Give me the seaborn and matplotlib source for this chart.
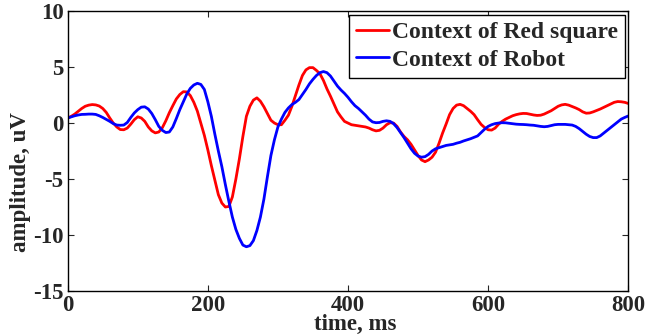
import numpy as np
import pandas as pd
import seaborn as sns
import matplotlib.pyplot as plt

# time axis, ms (one sample every 5 ms)
time_ms = list(range(0, 801, 5))

# ERP amplitude (uV), one row = 100 ms
red_square = [
    0.45, 0.6, 0.8, 1.05, 1.3, 1.5, 1.6, 1.65, 1.62, 1.52, 1.3, 0.95, 0.45, 0.0, -0.35, -0.58, -0.6, -0.45, -0.1, 0.3,
    0.56, 0.45, 0.15, -0.35, -0.7, -0.88, -0.8, -0.42, 0.2, 0.92, 1.55, 2.15, 2.55, 2.8, 2.78, 2.45, 1.85, 1.07, 0.0, -1.1,
    -2.4, -3.8, -5.1, -6.4, -7.15, -7.5, -7.45, -6.6, -5.0, -3.2, -1.2, 0.6, 1.5, 2.05, 2.25, 1.95, 1.45, 0.85, 0.25, 0.0,
    -0.15, -0.15, 0.25, 0.7, 1.5, 2.45, 3.4, 4.25, 4.75, 4.95, 4.95, 4.7, 4.4, 3.8, 3.05, 2.4, 1.7, 1.0, 0.55, 0.15,
    0.0, -0.15, -0.2, -0.25, -0.3, -0.35, -0.45, -0.6, -0.7, -0.65, -0.45, -0.15, 0.03, 0.0, -0.3, -0.8, -1.2, -1.5, -1.9, -2.4,
    -2.9, -3.3, -3.45, -3.3, -3.05, -2.6, -1.8, -0.9, -0.1, 0.75, 1.3, 1.6, 1.67, 1.55, 1.3, 1.05, 0.75, 0.3, -0.12, -0.4,
    -0.6, -0.63, -0.45, -0.1, 0.15, 0.35, 0.5, 0.65, 0.75, 0.82, 0.86, 0.85, 0.78, 0.72, 0.68, 0.7, 0.8, 0.95, 1.1, 1.3,
    1.5, 1.62, 1.67, 1.6, 1.48, 1.35, 1.2, 1.0, 0.88, 0.9, 1.0, 1.12, 1.25, 1.4, 1.55, 1.7, 1.85, 1.92, 1.9, 1.85,
    1.75]
robot = [
    0.45, 0.55, 0.65, 0.72, 0.77, 0.78, 0.8, 0.8, 0.77, 0.65, 0.5, 0.33, 0.15, -0.05, -0.18, -0.2, -0.18, 0.05, 0.5, 0.9,
    1.2, 1.42, 1.45, 1.25, 0.85, 0.3, -0.3, -0.65, -0.85, -0.8, -0.35, 0.4, 1.2, 1.9, 2.6, 3.1, 3.4, 3.55, 3.45, 3.0,
    1.9, 0.6, -1.0, -2.5, -3.9, -5.5, -7.0, -8.4, -9.5, -10.3, -10.9, -11.05, -10.95, -10.5, -9.6, -8.4, -6.8, -4.8, -2.9, -1.5,
    -0.35, 0.35, 0.95, 1.35, 1.65, 1.85, 2.1, 2.55, 3.0, 3.5, 3.9, 4.25, 4.5, 4.6, 4.5, 4.2, 3.75, 3.3, 2.95, 2.65,
    2.3, 1.9, 1.55, 1.3, 1.0, 0.7, 0.35, 0.1, 0.03, 0.05, 0.15, 0.2, 0.15, -0.05, -0.4, -0.85, -1.3, -1.8, -2.3, -2.7,
    -2.95, -3.05, -3.0, -2.8, -2.5, -2.3, -2.2, -2.1, -2.0, -1.95, -1.9, -1.8, -1.72, -1.6, -1.5, -1.4, -1.28, -1.15, -0.85, -0.55,
    -0.3, -0.15, -0.05, 0.0, 0.03, 0.02, -0.02, -0.07, -0.1, -0.12, -0.13, -0.15, -0.18, -0.2, -0.25, -0.3, -0.33, -0.3, -0.22, -0.15,
    -0.12, -0.12, -0.12, -0.15, -0.18, -0.3, -0.5, -0.75, -1.0, -1.2, -1.3, -1.3, -1.15, -0.9, -0.65, -0.4, -0.15, 0.1, 0.35, 0.5,
    0.63]

labels = ["Context of Red square", "Context of Robot"]
x_ticks = [0, 200, 400, 600, 800]
y_ticks = [-15, -10, -5, 0, 5, 10]

df = pd.DataFrame({
    "time": time_ms * 2,
    "amp": red_square + robot,
    "cond": [labels[0]] * len(time_ms) + [labels[1]] * len(time_ms),
})

sns.set_style("ticks")
plt.rcParams["font.family"] = ["Liberation Serif", "DejaVu Serif"]
plt.rcParams["font.weight"] = "bold"

fig = plt.figure(figsize=(6.45, 3.36), dpi=100)
ax = fig.add_axes([0.105, 0.134, 0.869, 0.833])

sns.lineplot(data=df, x="time", y="amp", hue="cond",
             palette=["#ff0000", "#0000ff"], linewidth=2.0, ax=ax,
             solid_joinstyle="round")

ax.set_xlim(0, 800)
ax.set_ylim(-15, 10)
ax.set_xticks(x_ticks)
ax.set_yticks(y_ticks)
ax.set_xticklabels([str(v) for v in x_ticks], fontsize=16.5, fontweight="bold")
ax.set_yticklabels([str(v) for v in y_ticks], fontsize=16.5, fontweight="bold")
ax.tick_params(direction="in", length=4, width=0.8, top=True, right=True)
ax.tick_params(axis="x", pad=3)
ax.tick_params(axis="y", pad=3)
for s in ax.spines.values():
    s.set_linewidth(1.0)
    s.set_color("black")

ax.set_xlabel("time, ms", fontsize=16.5, fontweight="bold")
ax.xaxis.set_label_coords(0.512, -0.082)
ax.set_ylabel("amplitude, uV", fontsize=16.5, fontweight="bold")
ax.yaxis.set_label_coords(-0.066, 0.39)

leg = ax.legend(loc="upper right", fontsize=17, frameon=True, fancybox=False,
                handlelength=1.4, handletextpad=0.1, borderpad=0.3,
                labelspacing=0.25, borderaxespad=0.15)
leg.get_frame().set_edgecolor("black")
leg.get_frame().set_linewidth(1.0)
leg.get_frame().set_alpha(1)
for t in leg.get_texts():
    t.set_fontweight("bold")

fig.savefig("out.png", dpi=100)
